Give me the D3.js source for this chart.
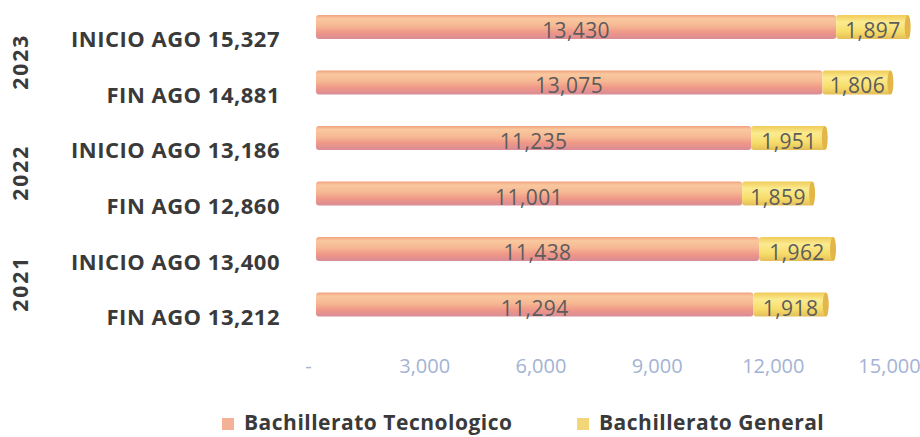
<!DOCTYPE html>
<html>
<head>
<meta charset="utf-8">
<script src="https://cdn.jsdelivr.net/npm/d3@7"></script>
<style>
  html, body { margin: 0; padding: 0; background: #fff; }
  svg { display: block; font-family: "Open Sans", Lato, sans-serif; }
</style>
</head>
<body>
<div id="chart"></div>
<script>
(function () {
  'use strict';

  // Rows top to bottom
  var periods     = ['INICIO AGO', 'FIN AGO', 'INICIO AGO', 'FIN AGO', 'INICIO AGO', 'FIN AGO'];
  var years       = ['2023', '2022', '2021'];
  var tecnologico = [13430, 13075, 11235, 11001, 11438, 11294];
  var general     = [1897, 1806, 1951, 1859, 1962, 1918];
  var seriesNames = ['Bachillerato Tecnologico', 'Bachillerato General'];
  var xTicks      = [0, 3000, 6000, 9000, 12000, 15000];

  var W = 920, H = 437;
  var fmt = d3.format(',');

  var rows = periods.map(function (p, i) {
    return {
      id: i,
      label: p + ' ' + fmt(tecnologico[i] + general[i]),
      tec: tecnologico[i],
      gen: general[i]
    };
  });

  var svg = d3.select('#chart').append('svg')
    .attr('width', W).attr('height', H);

  var x = d3.scaleLinear().domain([0, 15000]).range([316, 897]);
  var y = d3.scaleBand()
    .domain(rows.map(function (d) { return d.id; }))
    .range([-16.5, 348])
    .padding(0.567);

  // cylinder-ish gradients
  var defs = svg.append('defs');
  function grad(id, stops) {
    var g = defs.append('linearGradient').attr('id', id)
      .attr('x1', 0).attr('y1', 0).attr('x2', 0).attr('y2', 1);
    stops.forEach(function (s) {
      g.append('stop').attr('offset', s[0]).attr('stop-color', s[1]);
    });
  }
  grad('gTec', [[0, '#f2a17e'], [0.15, '#f9c89e'], [0.45, '#f6b893'], [0.72, '#ef9788'], [1, '#d98c96']]);
  grad('gGen', [[0, '#f0cb58'], [0.3, '#fbeb90'], [0.7, '#f7dc6a'], [1, '#e4be58']]);

  var bh = y.bandwidth();

  var g = svg.append('g');
  var rowSel = g.selectAll('g.row').data(rows).enter().append('g')
    .attr('class', 'row')
    .attr('transform', function (d) { return 'translate(0,' + y(d.id) + ')'; });

  rowSel.append('rect')
    .attr('x', x(0))
    .attr('width', function (d) { return x(d.tec) - x(0); })
    .attr('height', bh)
    .attr('rx', 3)
    .attr('fill', 'url(#gTec)');

  rowSel.append('rect')
    .attr('x', function (d) { return x(d.tec); })
    .attr('width', function (d) { return x(d.tec + d.gen) - x(d.tec); })
    .attr('height', bh)
    .attr('rx', 3)
    .attr('fill', 'url(#gGen)');

  // end cap of the cylinder
  rowSel.append('ellipse')
    .attr('cx', function (d) { return x(d.tec + d.gen) - 2; })
    .attr('cy', bh / 2)
    .attr('rx', 3)
    .attr('ry', bh / 2)
    .attr('fill', '#e3b64a');

  // value labels, centred in each segment
  rowSel.append('text')
    .attr('x', function (d) { return (x(0) + x(d.tec)) / 2; })
    .attr('y', bh / 2 + 11)
    .attr('text-anchor', 'middle')
    .attr('font-size', '21px')
    .attr('letter-spacing', '0.4px')
    .attr('fill', '#5c5c5c')
    .text(function (d) { return fmt(d.tec); });

  rowSel.append('text')
    .attr('x', function (d) { return (x(d.tec) + x(d.tec + d.gen)) / 2; })
    .attr('y', bh / 2 + 11)
    .attr('text-anchor', 'middle')
    .attr('font-size', '21px')
    .attr('letter-spacing', '0.4px')
    .attr('fill', '#5c5c5c')
    .text(function (d) { return fmt(d.gen); });

  // category labels
  rowSel.append('text')
    .attr('x', 280)
    .attr('y', bh / 2 + 20.5)
    .attr('text-anchor', 'end')
    .attr('font-size', '22px')
    .attr('font-weight', 'bold')
    .attr('letter-spacing', '0.5px')
    .attr('fill', '#3a3a3a')
    .text(function (d) { return d.label; });

  // year labels, one per pair of rows
  svg.selectAll('text.year').data(years).enter().append('text')
    .attr('class', 'year')
    .attr('transform', function (d, i) {
      var cy = (y(i * 2) + y(i * 2 + 1) + bh) / 2 + 7;
      return 'translate(28,' + cy + ') rotate(-90)';
    })
    .attr('text-anchor', 'middle')
    .attr('font-size', '21px')
    .attr('font-weight', 'bold')
    .attr('letter-spacing', '2px')
    .attr('fill', '#3a3a3a')
    .text(function (d) { return d; });

  // x axis (labels only)
  var axis = svg.append('g')
    .attr('transform', 'translate(0,' + 356 + ')')
    .call(d3.axisBottom(x).tickValues(xTicks).tickSize(0)
      .tickFormat(function (v) { return v === 0 ? '-' : fmt(v); }));
  axis.select('.domain').remove();
  axis.selectAll('text')
    .attr('dx', -8)
    .attr('font-family', '"Open Sans", Lato, sans-serif')
    .attr('font-size', '20px')
    .attr('fill', '#a3b3d4');

  // legend
  var legColors = ['#f4b196', '#f3d678'];
  var legX = [222, 577];
  var leg = svg.selectAll('g.leg').data(seriesNames).enter().append('g')
    .attr('class', 'leg')
    .attr('transform', function (d, i) { return 'translate(' + legX[i] + ',418)'; });
  leg.append('rect')
    .attr('width', 12).attr('height', 12)
    .attr('fill', function (d, i) { return legColors[i]; });
  leg.append('text')
    .attr('x', 22).attr('y', 12)
    .attr('font-size', '21px')
    .attr('font-weight', 'bold')
    .attr('letter-spacing', '0.5px')
    .attr('fill', '#3a3a3a')
    .text(function (d) { return d; });
})();
</script>
</body>
</html>
